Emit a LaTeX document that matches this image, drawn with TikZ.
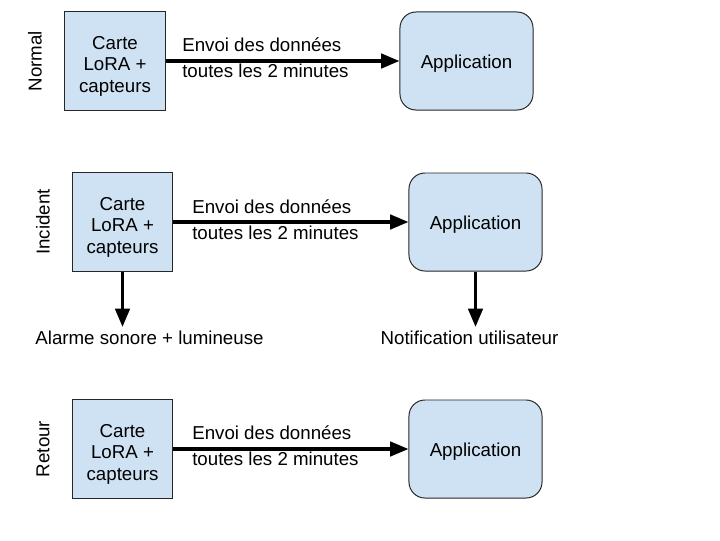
\documentclass[tikz,border=0pt]{standalone}
\usepackage{fontspec}
\setmainfont{Liberation Sans}
\usepackage{xcolor}
\usetikzlibrary{arrows.meta}
\definecolor{bleuclair}{HTML}{CFE2F3}
\tikzset{
	carte/.style={
			draw=black!85, fill=bleuclair, line width=0.7pt,
			minimum width=2.5cm, minimum height=2.475cm, align=center,
			font=\fontsize{13.3}{15.3}\selectfont, text height=44.5pt, text depth=0pt
		},
	appli/.style={carte, rounded corners=0.4cm, minimum width=3.325cm, minimum height=2.45cm, text height=11.1pt},
	fleche/.style={line width=2.4pt, -{Triangle[length=0.46cm,width=0.36cm]}},
	texte/.style={font=\fontsize{13.3}{18.4}\selectfont, inner sep=0pt, align=left}
}

\begin{document}
\begin{tikzpicture}[x=0.025cm, y=-0.025cm]
        \useasboundingbox (0, 0) rectangle (720, 540);
        % Normal
        \node[texte, rotate=90] (titre_N) at (35, 61) {Normal};
        \node[carte] (carte_N) at (115, 61) {Carte\\LoRA +\\capteurs};
        \node[appli] (appli_N) at (466.5, 61) {Application};
        \draw[fleche] (carte_N) -- (appli_N);
        \node[texte, anchor=west] (envoi_N) at (182, 58) {Envoi des données\\toutes les 2 minutes};
        % Incident
        \node[texte, rotate=90] (titre_I) at (43, 222) {Incident};
        \node[carte] (carte_I) at (122.5, 222) {Carte\\LoRA +\\capteurs};
        \node[appli] (appli_I) at (475.5, 222) {Application};
        \draw[fleche] (carte_I) -- (appli_I);
        \node[texte, anchor=west] (envoi_I) at (192, 220) {Envoi des données\\toutes les 2 minutes};
        \coordinate (alarme_I) at (122.5, 327);
        \coordinate (notif_I) at (475.5, 327);
        \draw[fleche] (carte_I) -- (alarme_I);
        \draw[fleche] (appli_I) -- (notif_I);
        \node[texte] (alarme_txt) at (149.5, 338) {Alarme sonore + lumineuse};
        \node[texte] (notif_txt) at (469.5, 338) {Notification utilisateur};
        % Retour
        \node[texte, rotate=90] (titre_R) at (43, 449) {Retour};
        \node[carte] (carte_R) at (122.5, 449) {Carte\\LoRA +\\capteurs};
        \node[appli] (appli_R) at (475.5, 449) {Application};
        \draw[fleche] (carte_R) -- (appli_R);
        \node[texte, anchor=west] (envoi_R) at (192, 446) {Envoi des données\\toutes les 2 minutes};
    \end{tikzpicture}
\end{document}
